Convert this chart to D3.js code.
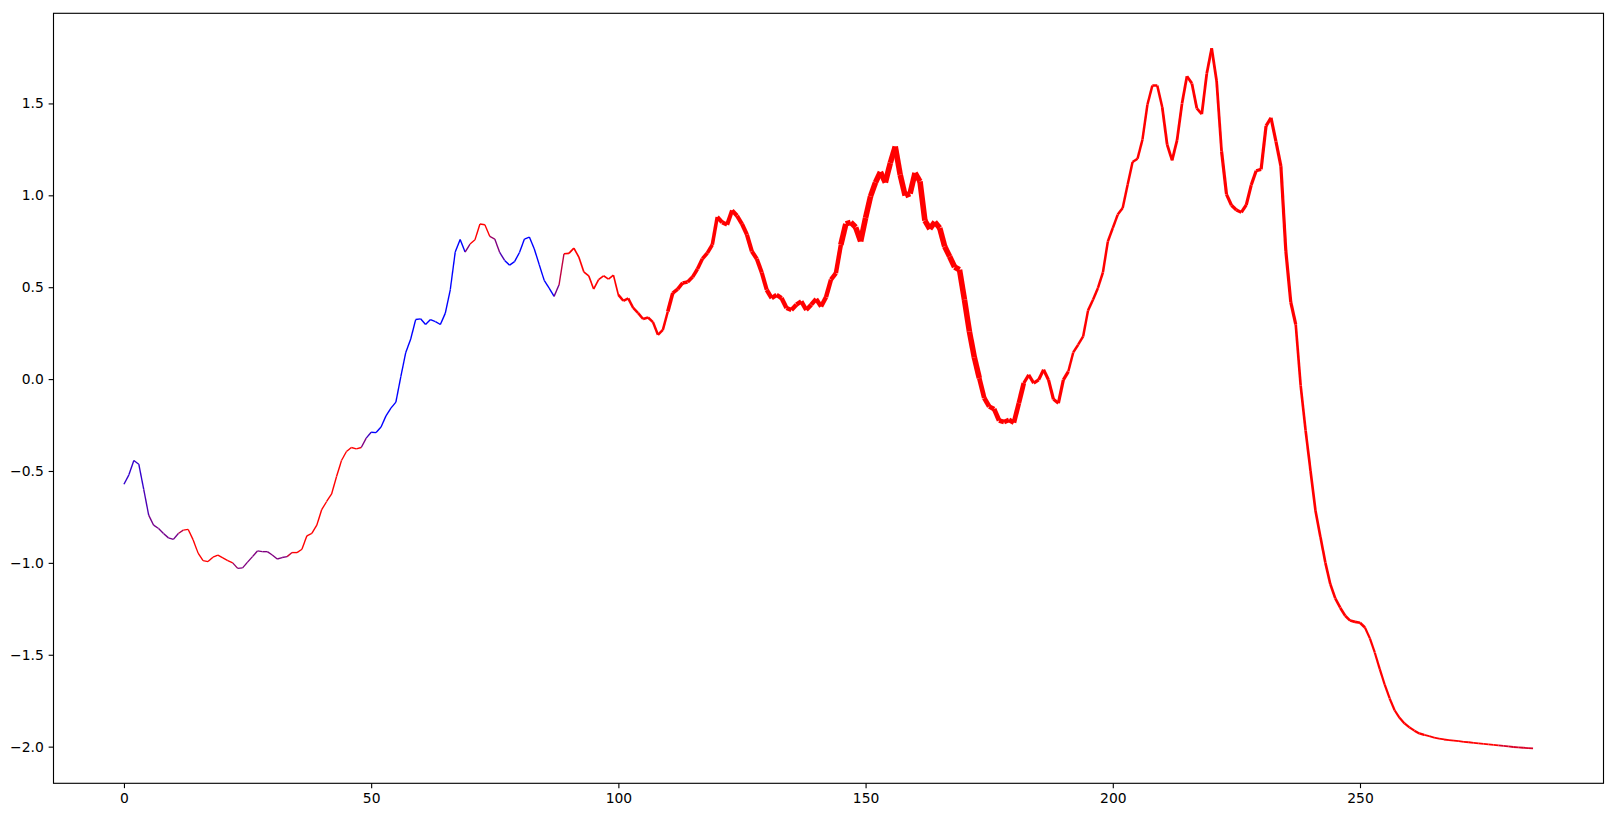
<!DOCTYPE html>
<html><head><meta charset="utf-8">
<script src="https://cdn.jsdelivr.net/npm/d3@7"></script>
<style>body{margin:0;background:#fff} text{font-family:"DejaVu Sans",sans-serif;}</style>
</head><body><svg id="c" width="1616" height="817"></svg>
<script>
const values=[
-0.572,-0.521,-0.443,-0.463,-0.60,-0.74,-0.795,-0.813,-0.84,-0.864,
-0.872,-0.84,-0.822,-0.818,-0.875,-0.947,-0.988,-0.993,-0.969,-0.958,
-0.973,-0.988,-1.0,-1.03,-1.027,-0.996,-0.966,-0.935,-0.939,-0.939,
-0.957,-0.979,-0.971,-0.966,-0.944,-0.944,-0.926,-0.853,-0.84,-0.795,
-0.71,-0.666,-0.625,-0.53,-0.443,-0.394,-0.372,-0.38,-0.372,-0.321,
-0.289,-0.291,-0.261,-0.2,-0.158,-0.125,0.014,0.145,0.218,0.324,
0.328,0.297,0.324,0.313,0.297,0.359,0.486,0.691,0.76,0.691,
0.735,0.758,0.844,0.84,0.776,0.762,0.689,0.646,0.62,0.639,
0.689,0.762,0.773,0.708,0.622,0.537,0.495,0.45,0.513,0.682,
0.684,0.713,0.664,0.584,0.562,0.49,0.541,0.562,0.544,0.566,
0.458,0.426,0.439,0.387,0.359,0.327,0.335,0.31,0.241,0.268,
0.368,0.468,0.49,0.523,0.528,0.555,0.599,0.655,0.686,0.731,
0.882,0.853,0.84,0.918,0.889,0.844,0.786,0.695,0.654,0.58,
0.486,0.441,0.458,0.441,0.387,0.376,0.405,0.423,0.376,0.405,
0.436,0.395,0.446,0.541,0.577,0.731,0.844,0.853,0.826,0.749,
0.877,0.994,1.07,1.127,1.07,1.176,1.266,1.112,0.998,1.009,
1.122,1.076,0.862,0.817,0.855,0.822,0.722,0.667,0.61,0.595,
0.432,0.259,0.118,0.005,-0.103,-0.149,-0.163,-0.225,-0.234,-0.222,
-0.237,-0.131,-0.022,0.023,-0.022,-0.004,0.051,-0.004,-0.11,-0.131,
-0.004,0.041,0.145,0.187,0.232,0.374,0.432,0.496,0.58,0.749,
0.822,0.895,0.931,1.058,1.181,1.199,1.303,1.493,1.597,1.597,
1.48,1.275,1.19,1.30,1.499,1.648,1.609,1.473,1.442,1.661,
1.80,1.622,1.24,1.005,0.946,0.92,0.907,0.948,1.056,1.134,
1.141,1.378,1.422,1.293,1.159,0.697,0.419,0.298,-0.036,-0.28,
-0.50,-0.717,-0.859,-1.0,-1.116,-1.193,-1.244,-1.288,-1.314,-1.321,
-1.326,-1.352,-1.411,-1.489,-1.578,-1.663,-1.738,-1.802,-1.843,-1.874,
-1.895,-1.913,-1.928,-1.936,-1.943,-1.951,-1.956,-1.961,-1.964,-1.967,
-1.970,-1.974,-1.976,-1.980,-1.982,-1.985,-1.988,-1.990,-1.993,-1.996,
-1.999,-2.002,-2.004,-2.006,-2.008,-2.009
];
const intensity=[
0.2,0.2,0.2,0.2,0.3,0.45,0.45,0.45,0.45,0.45,
0.45,0.7,1,1,1,1,1,1,1,1,
1,1,0.6,0.5,0.5,0.5,0.5,0.5,0.5,0.5,
0.5,0.5,0.5,0.8,1,1,1,1,1,1,
1,1,1,1,1,1,1,1,0.5,0.25,
0,0,0,0,0,0,0,0,0,0,
0,0,0,0,0,0,0,0,0,0.5,
1,1,1,1,0.6,0.5,0.3,0,0,0,
0,0,0,0,0,0,0,0.45,0.75,1,
1,1,1,1,1,1,1,1,1,1,
1,1,1,1,1,1,1,1,1,1,
1,1,1,1,1,1,1,1,1,1,
1,1,1,1,1,1,1,1,1,1,
1,1,1,1,1,1,1,1,1,1,
1,1,1,1,1,1,1,1,1,1,
1,1,1,1,1,1,1,1,1,1,
1,1,1,1,1,1,1,1,1,1,
1,1,1,1,1,1,1,1,1,1,
1,1,1,1,1,1,1,1,1,1,
1,1,1,1,1,1,1,1,1,1,
1,1,1,1,1,1,1,1,1,1,
1,1,1,1,1,1,1,1,1,1,
1,1,1,1,1,1,1,1,1,1,
1,1,1,1,1,1,1,1,1,1,
1,1,1,1,1,1,1,1,1,1,
1,1,1,1,1,1,1,1,1,1,
1,1,1,1,1,1,1,1,1,1,
1,1,1,1,1,1,1,1,0.85,0.85,
0.85,0.85,0.85,0.85,0.85,0.85
];
const weight=[
1,1,1,1,1,1,1,1,1,1,
1,1,1,1,1,1,1,1,1,1,
1,1,1,1,1,1,1,1,1,1,
1,1,1,1,1,1,1,1,1,1,
1,1,1,1,1,1,1,1,1,1,
1,1,1,1,1,1,1,1,1,1,
1,1,1,1,1,1,1,1,1,1,
1,1,1,1,1,1,1,1,1,1,
1,1,1,1,1,1,1,1,1,1.2,
1.2,1.2,1.2,1.2,1.2,1.2,1.2,1.2,1.2,1.2,
1.8,1.8,1.8,1.8,1.8,1.8,1.8,1.8,1.8,1.8,
2.6,2.6,2.6,2.6,2.6,2.6,2.6,2.6,2.6,2.6,
3.0,3.0,3.0,3.0,3.0,3.0,3.0,3.0,3.0,3.0,
3.2,3.2,3.2,3.2,3.2,3.2,3.2,3.2,3.2,3.2,
3.2,3.2,3.2,3.2,3.2,4.0,4.0,4.0,4.0,4.0,
4.0,4.0,4.0,4.0,4.0,4.0,4.0,4.0,4.0,4.0,
4.0,4.0,4.0,4.0,4.0,4.0,4.0,4.0,4.0,4.0,
4.0,4.0,4.0,3.4,3.4,3.4,3.4,3.4,3.4,3.4,
3.4,3.4,2.3,2.3,2.3,2.3,2.3,2.3,2.3,2.3,
2.3,1.8,1.8,1.8,1.8,1.8,1.8,1.8,1.8,1.8,
1.8,1.8,1.8,1.8,1.8,1.8,1.8,1.8,1.8,1.8,
2.0,2.0,2.0,2.0,2.0,2.0,2.0,2.0,2.0,2.0,
2.0,2.0,2.3,2.3,2.3,2.3,2.3,2.3,2.3,2.3,
2.3,2.3,2.3,2.3,2.3,2.3,2.3,1.9,1.9,1.9,
1.9,1.9,1.9,1.9,1.9,1.9,1.9,1.9,1.9,1.9,
1.9,1.6,1.6,1.6,1.6,1.6,1.6,1.6,1.6,1.6,
1.6,1.6,1.6,1.3,1.3,1.3,1.3,1.3,1.3,1.3,
1.3,1.3,1.3,1.3,1.3,1.3,1.3,1.3,1.3,1.3,
1.3,1.3,1.3,1.3,1.3,1.3
];
const xTicks=[0,50,100,150,200,250];
const xTickLabels=["0","50","100","150","200","250"];
const yTicks=[-2.0,-1.5,-1.0,-0.5,0.0,0.5,1.0,1.5];
const yTickLabels=["\u22122.0","\u22121.5","\u22121.0","\u22120.5","0.0","0.5","1.0","1.5"];

const svg=d3.select("#c");
const L=53.5,R=1603.5,T=13.3,B=783.3;
const PT=100/72;
const n=values.length;
const xPad=(n-1)*0.05;
const x=d3.scaleLinear().domain([-xPad,(n-1)+xPad]).range([L,R]);
const [yMin,yMax]=d3.extent(values);
const yPad=(yMax-yMin)*0.05;
const y=d3.scaleLinear().domain([yMin-yPad,yMax+yPad]).range([B,T]);
const color=d3.scaleLinear().domain([0,1]).range(["#0000ff","#ff0000"]).interpolate(d3.interpolateRgb);
const lw=d3.scaleLinear().domain([0,1]).range([0,PT]);

svg.append("defs").append("clipPath").attr("id","clip")
  .append("rect").attr("x",L).attr("y",T).attr("width",R-L).attr("height",B-T);

const segs=d3.range(n-1);
svg.append("g").attr("clip-path","url(#clip)")
  .selectAll("line").data(segs).join("line")
  .attr("x1",i=>x(i)).attr("y1",i=>y(values[i]))
  .attr("x2",i=>x(i+1)).attr("y2",i=>y(values[i+1]))
  .attr("stroke",i=>color(intensity[i]))
  .attr("stroke-width",i=>lw(weight[i]))
  .attr("stroke-linecap","butt");

const fs=10*PT, tl=3.5*PT;
const gx=svg.append("g").attr("transform",`translate(0,${B})`)
  .call(d3.axisBottom(x).tickValues(xTicks).tickFormat((d,i)=>xTickLabels[i]).tickSize(tl).tickPadding(tl));
const gy=svg.append("g").attr("transform",`translate(${L},0)`)
  .call(d3.axisLeft(y).tickValues(yTicks).tickFormat((d,i)=>yTickLabels[i]).tickSize(tl).tickPadding(tl));
[gx,gy].forEach(g=>{
  g.select(".domain").remove();
  g.selectAll(".tick line").attr("stroke","#000").attr("stroke-width",0.8*PT);
  g.selectAll(".tick text").attr("fill","#000").style("font-size",fs+"px").style("font-family","DejaVu Sans");
});

svg.append("rect").attr("x",L).attr("y",T).attr("width",R-L).attr("height",B-T)
  .attr("fill","none").attr("stroke","#000").attr("stroke-width",0.8*PT);
</script></body></html>
